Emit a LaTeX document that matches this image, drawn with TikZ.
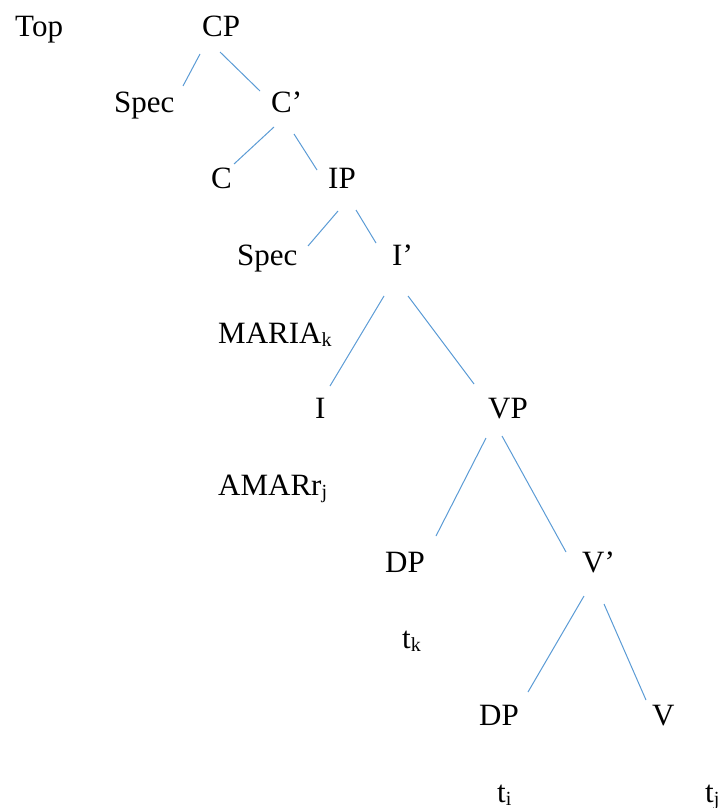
\documentclass[tikz,border=0pt]{standalone}
\usepackage{fontspec}
\setmainfont{Liberation Serif}
\definecolor{branchblue}{HTML}{5B9BD5}
\newcommand{\branch}[2]{\draw[branch line] (#1) -- (#2)}
\newcommand{\idx}[1]{\raisebox{-3pt}{\fontsize{20}{24}\selectfont #1}}

\begin{document}
\begin{tikzpicture}[x=1pt,y=-1pt,
	word/.style={anchor=base west,inner sep=0pt,font=\fontsize{31}{37}\selectfont},
	branch line/.style={draw=branchblue,line width=1pt}]
\useasboundingbox (0,0) rectangle (719,808);
%
	\node[word] (top) at (15,37) {Top};
	\node[word] (cp) at (202,37) {CP};
	\node[word] (specc) at (114,112) {Spec};
	\node[word] (cbar) at (271,112) {C'};
	\node[word] (c) at (211,188) {C};
	\node[word] (ip) at (328,188) {IP};
	\node[word] (speci) at (237,265) {Spec};
	\node[word] (ibar) at (392,265) {I'};
	\node[word] (maria) at (218,343) {MARIA\idx{k}};
	\node[word] (i) at (315,418) {I};
	\node[word] (vp) at (488,418) {VP};
	\node[word] (amar) at (218,495) {AMARr\idx{j}};
	\node[word] (dps) at (385,572) {DP};
	\node[word] (vbar) at (582,572) {V'};
	\node[word] (tk) at (402,648) {t\idx{k}};
	\node[word] (dpo) at (479,725) {DP};
	\node[word] (v) at (652,725) {V};
	\node[word] (ti) at (497,802) {t\idx{i}};
	\node[word] (tj) at (705,802) {t\idx{j}};
%
	\coordinate (cp-l) at (200,54);    \coordinate (specc-t) at (183,86);
	\coordinate (cp-r) at (220,52);    \coordinate (cbar-t) at (260,91);
	\coordinate (cbar-l) at (274,127); \coordinate (c-t) at (234,164);
	\coordinate (cbar-r) at (294,134); \coordinate (ip-t) at (317,170);
	\coordinate (ip-l) at (338,211);   \coordinate (speci-t) at (308,246);
	\coordinate (ip-r) at (356,210);   \coordinate (ibar-t) at (376,243);
	\coordinate (ibar-l) at (384,296); \coordinate (i-t) at (330,386);
	\coordinate (ibar-r) at (408,296); \coordinate (vp-t) at (474,384);
	\coordinate (vp-l) at (486,438);   \coordinate (dps-t) at (436,536);
	\coordinate (vp-r) at (502,436);   \coordinate (vbar-t) at (566,552);
	\coordinate (vbar-l) at (584,596); \coordinate (dpo-t) at (528,692);
	\coordinate (vbar-r) at (604,604); \coordinate (v-t) at (646,700);
%
	\branch{cp-l}{specc-t};
	\branch{cp-r}{cbar-t};
	\branch{cbar-l}{c-t};
	\branch{cbar-r}{ip-t};
	\branch{ip-l}{speci-t};
	\branch{ip-r}{ibar-t};
	\branch{ibar-l}{i-t};
	\branch{ibar-r}{vp-t};
	\branch{vp-l}{dps-t};
	\branch{vp-r}{vbar-t};
	\branch{vbar-l}{dpo-t};
	\branch{vbar-r}{v-t};
%
\end{tikzpicture}
\end{document}
